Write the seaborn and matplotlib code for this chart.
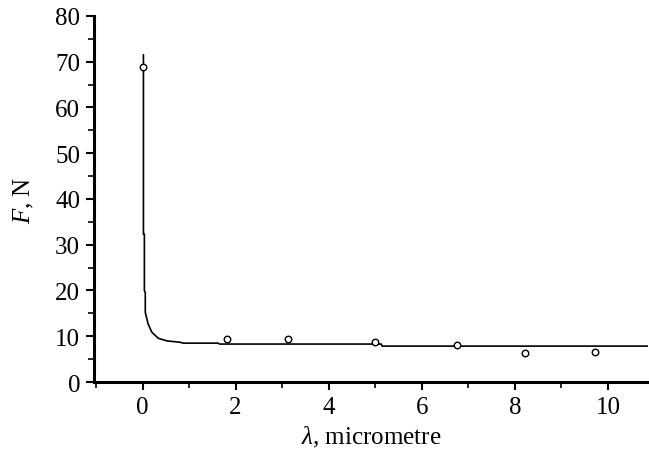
import numpy as np
import pandas as pd
import seaborn as sns
import matplotlib.pyplot as plt
from matplotlib.ticker import MultipleLocator

# measured points
lam_pts = [0.0, 1.81, 3.12, 5.0, 6.76, 8.21, 9.73]
force_pts = [68.8, 9.4, 9.4, 8.8, 8.15, 6.3, 6.5]

# fitted curve
lam_fit = [0.02, 0.02, 0.04, 0.04, 0.06, 0.06, 0.12, 0.2, 0.34, 0.52, 0.8, 0.88,
           1.63, 1.65, 5.13, 5.15, 10.9]
force_fit = [71.5, 32.3, 32.3, 20.0, 19.5, 15.2, 12.7, 10.9, 9.55, 9.0, 8.7, 8.5,
             8.5, 8.3, 8.3, 7.85, 7.85]

sns.set_style('ticks', {'axes.edgecolor': 'black', 'text.color': 'black',
                        'axes.labelcolor': 'black', 'xtick.color': 'black',
                        'ytick.color': 'black'})
plt.rcParams['font.family'] = ['Liberation Serif', 'DejaVu Serif']
plt.rcParams['mathtext.fontset'] = 'custom'
plt.rcParams['mathtext.rm'] = 'Liberation Serif'
plt.rcParams['mathtext.it'] = 'Liberation Serif:italic'

fig = plt.figure(figsize=(6.49, 4.56), dpi=100)
ax = fig.add_axes([0.145, 0.16, 0.854, 0.803])

sns.lineplot(x=lam_fit, y=force_fit, sort=False, estimator=None, color='black',
             linewidth=1.2, ax=ax)
sns.scatterplot(x=lam_pts, y=force_pts, marker='o', s=22, facecolor='white',
                edgecolor='black', linewidth=1.0, zorder=3, ax=ax)

ax.set_xlim(-1.04, 10.87)
ax.set_ylim(0, 80)
ax.xaxis.set_major_locator(MultipleLocator(2))
ax.xaxis.set_minor_locator(MultipleLocator(1))
ax.yaxis.set_major_locator(MultipleLocator(10))
ax.yaxis.set_minor_locator(MultipleLocator(5))
ax.tick_params(which='major', length=6, width=1.5, labelsize=18, direction='out', pad=4)
ax.tick_params(which='minor', length=4, width=1.2, direction='out')
sns.despine(ax=ax)
for s in ['left', 'bottom']:
    ax.spines[s].set_linewidth(2.2)

ax.set_xlabel(r'$\lambda$, micrometre', fontsize=18, labelpad=4)
ax.set_ylabel(r'$F$, N', fontsize=18, labelpad=14)

fig.savefig('out.png', dpi=100)
